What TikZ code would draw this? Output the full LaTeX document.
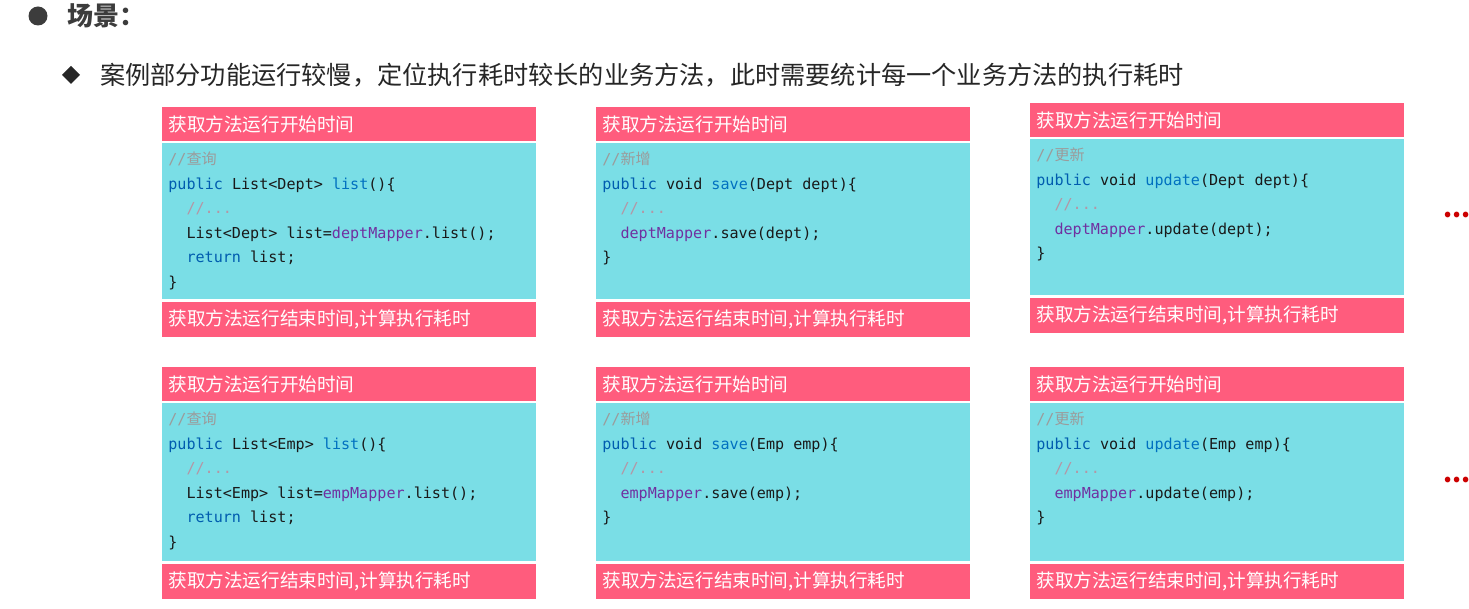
\documentclass[tikz,border=0pt]{standalone}
\usepackage{fontspec}
\setmainfont{Noto Sans CJK SC}
\setmonofont{DejaVu Sans Mono}
\newfontfamily\cjk{Noto Sans CJK SC}
\usepackage{xcolor}
\usetikzlibrary{positioning}

\definecolor{hdrred}{RGB}{255,92,125}
\definecolor{codecyan}{RGB}{122,222,230}
\definecolor{kwblue}{RGB}{0,92,175}
\definecolor{fnblue}{RGB}{0,112,192}
\definecolor{mapper}{RGB}{112,48,160}
\definecolor{cmtgrey}{RGB}{155,155,155}
\definecolor{cmtpink}{RGB}{180,150,165}
\definecolor{titlegrey}{RGB}{60,60,60}

\newcommand{\kw}[1]{\textcolor{kwblue}{#1}}
\newcommand{\fn}[1]{\textcolor{fnblue}{#1}}
\newcommand{\mapr}[1]{\textcolor{mapper}{#1}}
\newcommand{\cmt}[1]{\textcolor{cmtgrey}{//{\cjk #1}}}
\newcommand{\cmtdots}{\textcolor{cmtpink}{//...}}
\newcommand{\ind}{\hspace*{1.2em}}

\tikzset{
  hdr/.style={rectangle, fill=hdrred, text=white, inner xsep=3pt, inner ysep=0pt,
              text width=181pt, align=left, minimum height=17pt,
              font=\fontsize{9.3}{11}\selectfont},
  ftr/.style={hdr, minimum height=17.5pt},
  codebox/.style={rectangle, fill=codecyan, inner sep=0pt,
                  minimum width=187pt, minimum height=78pt},
  codetext/.style={anchor=north west, inner sep=0pt, align=left, text=black!90,
                   font=\ttfamily\fontsize{7.55}{12.3}\selectfont},
  moredots/.style={anchor=base west, text=red!80!black,
                   font=\fontsize{13}{15}\selectfont\bfseries},
}

\begin{document}
\begin{tikzpicture}[x=0.5pt, y=-0.5pt]
  \useasboundingbox (0,0) rectangle (1469,609);

  % title lines
  \fill[titlegrey] (38,16) circle (9.5);
  \node[anchor=west, text=titlegrey, font=\fontsize{13}{15}\selectfont\bfseries]
    (title) at (60,16) {场景：};
  \fill[black!85] (71,66) -- (80,75) -- (71,84) -- (62,75) -- cycle;
  \node[anchor=west, text=black!85, font=\fontsize{12.6}{15}\selectfont]
    (scene) at (93,75) {案例部分功能运行较慢，定位执行耗时较长的业务方法，此时需要统计每一个业务方法的执行耗时};

  % row 1: dept
  \node[hdr, anchor=north west] (h11) at (162,107) {获取方法运行开始时间};
  \node[codebox, below=0.5pt of h11] (c11) {};
  \node[ftr, below=1pt of c11] (f11) {获取方法运行结束时间,计算执行耗时};
  \node[codetext] (t11) at ([xshift=3pt,yshift=-4.3pt]c11.north west)
    {\cmt{查询}\\
     \kw{public} List<Dept> \fn{list}()\{\\
     \ind\cmtdots\\
     \ind List<Dept> list=\mapr{deptMapper}.list();\\
     \ind\kw{return} list;\\
     \}};

  \node[hdr, anchor=north west] (h12) at (596,107) {获取方法运行开始时间};
  \node[codebox, below=0.5pt of h12] (c12) {};
  \node[ftr, below=1pt of c12] (f12) {获取方法运行结束时间,计算执行耗时};
  \node[codetext] (t12) at ([xshift=3pt,yshift=-4.3pt]c12.north west)
    {\cmt{新增}\\
     \kw{public} void \fn{save}(Dept dept)\{\\
     \ind\cmtdots\\
     \ind\mapr{deptMapper}.save(dept);\\
     \}};

  \node[hdr, anchor=north west] (h13) at (1030,103) {获取方法运行开始时间};
  \node[codebox, below=0.5pt of h13] (c13) {};
  \node[ftr, below=1pt of c13] (f13) {获取方法运行结束时间,计算执行耗时};
  \node[codetext] (t13) at ([xshift=3pt,yshift=-4.3pt]c13.north west)
    {\cmt{更新}\\
     \kw{public} void \fn{update}(Dept dept)\{\\
     \ind\cmtdots\\
     \ind\mapr{deptMapper}.update(dept);\\
     \}};

  % row 2: emp
  \node[hdr, anchor=north west] (h21) at (162,367) {获取方法运行开始时间};
  \node[codebox, below=0.5pt of h21, minimum height=79pt] (c21) {};
  \node[ftr, below=1pt of c21] (f21) {获取方法运行结束时间,计算执行耗时};
  \node[codetext] (t21) at ([xshift=3pt,yshift=-4.3pt]c21.north west)
    {\cmt{查询}\\
     \kw{public} List<Emp> \fn{list}()\{\\
     \ind\cmtdots\\
     \ind List<Emp> list=\mapr{empMapper}.list();\\
     \ind\kw{return} list;\\
     \}};

  \node[hdr, anchor=north west] (h22) at (596,367) {获取方法运行开始时间};
  \node[codebox, below=0.5pt of h22, minimum height=79pt] (c22) {};
  \node[ftr, below=1pt of c22] (f22) {获取方法运行结束时间,计算执行耗时};
  \node[codetext] (t22) at ([xshift=3pt,yshift=-4.3pt]c22.north west)
    {\cmt{新增}\\
     \kw{public} void \fn{save}(Emp emp)\{\\
     \ind\cmtdots\\
     \ind\mapr{empMapper}.save(emp);\\
     \}};

  \node[hdr, anchor=north west] (h23) at (1030,367) {获取方法运行开始时间};
  \node[codebox, below=0.5pt of h23, minimum height=79pt] (c23) {};
  \node[ftr, below=1pt of c23] (f23) {获取方法运行结束时间,计算执行耗时};
  \node[codetext] (t23) at ([xshift=3pt,yshift=-4.3pt]c23.north west)
    {\cmt{更新}\\
     \kw{public} void \fn{update}(Emp emp)\{\\
     \ind\cmtdots\\
     \ind\mapr{empMapper}.update(emp);\\
     \}};

  % more methods
  \node[moredots] (more1) at (1436,218) {...};
  \node[moredots] (more2) at (1436,483) {...};
\end{tikzpicture}
\end{document}
